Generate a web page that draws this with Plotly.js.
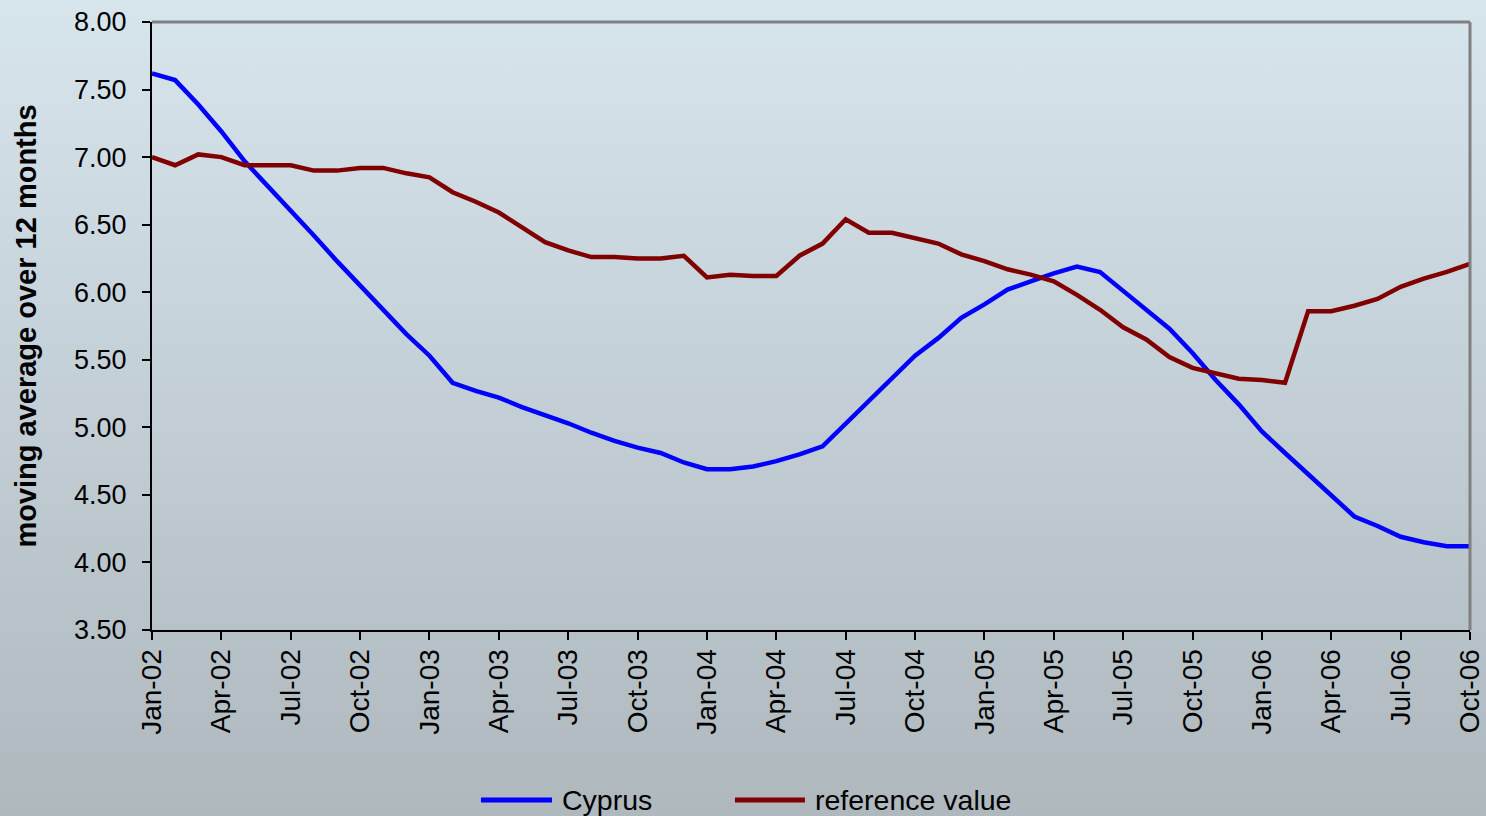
<!DOCTYPE html>
<html>
<head>
<meta charset="utf-8">
<script src="https://cdn.plot.ly/plotly-3.0.1.min.js"></script>
<style>
  html, body { margin: 0; padding: 0; width: 1486px; height: 816px; overflow: hidden; }
  body { background: linear-gradient(to bottom, #d7e5ed 0%, #aeb8bd 100%); }
  #chart { width: 1486px; height: 816px; }
</style>
</head>
<body>
<div id="chart"></div>
<script>
const months = [
  "Jan-02","Feb-02","Mar-02","Apr-02","May-02","Jun-02","Jul-02","Aug-02","Sep-02","Oct-02","Nov-02","Dec-02",
  "Jan-03","Feb-03","Mar-03","Apr-03","May-03","Jun-03","Jul-03","Aug-03","Sep-03","Oct-03","Nov-03","Dec-03",
  "Jan-04","Feb-04","Mar-04","Apr-04","May-04","Jun-04","Jul-04","Aug-04","Sep-04","Oct-04","Nov-04","Dec-04",
  "Jan-05","Feb-05","Mar-05","Apr-05","May-05","Jun-05","Jul-05","Aug-05","Sep-05","Oct-05","Nov-05","Dec-05",
  "Jan-06","Feb-06","Mar-06","Apr-06","May-06","Jun-06","Jul-06","Aug-06","Sep-06","Oct-06"
];
const tickLabels = [
  "Jan-02","Apr-02","Jul-02","Oct-02","Jan-03","Apr-03","Jul-03","Oct-03","Jan-04","Apr-04",
  "Jul-04","Oct-04","Jan-05","Apr-05","Jul-05","Oct-05","Jan-06","Apr-06","Jul-06","Oct-06"
];
const cyprus = [
  7.62,7.57,7.39,7.19,6.97,6.79,6.61,6.42,6.23,6.05,5.87,5.69,
  5.53,5.33,5.27,5.22,5.15,5.09,5.03,4.96,4.90,4.85,4.81,4.74,
  4.69,4.69,4.71,4.75,4.80,4.86,5.03,5.19,5.36,5.53,5.66,5.81,
  5.91,6.02,6.08,6.14,6.19,6.15,6.01,5.87,5.73,5.55,5.35,5.17,
  4.97,4.81,4.65,4.50,4.34,4.27,4.19,4.15,4.12,4.12
];
const referenceValue = [
  7.00,6.94,7.02,7.00,6.94,6.94,6.94,6.90,6.90,6.92,6.92,6.88,
  6.85,6.74,6.67,6.59,6.48,6.37,6.31,6.26,6.26,6.25,6.25,6.27,
  6.11,6.13,6.12,6.12,6.27,6.36,6.54,6.44,6.44,6.40,6.36,6.28,
  6.23,6.17,6.13,6.08,5.98,5.87,5.74,5.65,5.52,5.44,5.40,5.36,
  5.35,5.33,5.86,5.86,5.90,5.95,6.04,6.10,6.15,6.21
];
const yTicks = [3.5,4.0,4.5,5.0,5.5,6.0,6.5,7.0,7.5,8.0];
const seriesNames = ["Cyprus", "reference value"];
const seriesColors = ["#0000ff", "#800000"];

const font = "Liberation Sans, Arial, sans-serif";

const traces = [
  { x: months, y: cyprus, name: seriesNames[0], type: "scatter", mode: "lines",
    line: { color: seriesColors[0], width: 4.5 } },
  { x: months, y: referenceValue, name: seriesNames[1], type: "scatter", mode: "lines",
    line: { color: seriesColors[1], width: 4.5 } }
];

// manual legend below the chart (paper coordinates)
const legendY = -0.2796;
const legendItems = [
  { x0: 0.2496, x1: 0.3035, tx: 0.3096 },
  { x0: 0.4423, x1: 0.4954, tx: 0.5015 }
];
const legendShapes = legendItems.map((it, i) => ({
  type: "line", xref: "paper", yref: "paper", x0: it.x0, x1: it.x1, y0: legendY, y1: legendY,
  line: { color: seriesColors[i], width: 5 }
}));
const legendAnnotations = legendItems.map((it, i) => ({
  xref: "paper", yref: "paper", x: it.tx, y: legendY, xanchor: "left", yanchor: "middle",
  text: seriesNames[i], showarrow: false, font: { family: font, size: 28.5, color: "#000" }
}));

const layout = {
  width: 1486, height: 816,
  margin: { l: 152, r: 16, t: 22, b: 186 },
  paper_bgcolor: "rgba(0,0,0,0)",
  plot_bgcolor: "rgba(0,0,0,0)",
  font: { family: font, color: "#000", size: 27 },
  showlegend: false,
  xaxis: {
    type: "category",
    range: [0, months.length - 1],
    tickmode: "array", tickvals: tickLabels, ticktext: tickLabels,
    tickangle: -90,
    ticks: "outside", ticklen: 8, tickwidth: 2, tickcolor: "#000",
    showline: true, linecolor: "#000", linewidth: 2,
    showgrid: false, zeroline: false,
    tickfont: { family: font, size: 28, color: "#000" },
    ticklabelstandoff: -2
  },
  yaxis: {
    range: [3.5, 8.0],
    tickmode: "array", tickvals: yTicks,
    tickformat: ".2f",
    ticks: "outside", ticklen: 8, tickwidth: 2, tickcolor: "#000",
    showline: true, linecolor: "#000", linewidth: 2,
    showgrid: false, zeroline: false,
    tickfont: { family: font, size: 27, color: "#000" },
    ticklabelstandoff: 10,
    title: { text: "<b>moving average over 12 months</b>", font: { family: font, size: 29, color: "#000" }, standoff: 29 }
  },
  shapes: [
    { type: "line", xref: "paper", yref: "paper", x0: 0, x1: 1, y0: 1, y1: 1,
      line: { color: "#808080", width: 3 } },
    { type: "line", xref: "paper", yref: "paper", x0: 1, x1: 1, y0: 0, y1: 1,
      line: { color: "#808080", width: 3 } }
  ].concat(legendShapes),
  annotations: legendAnnotations
};

Plotly.newPlot("chart", traces, layout, { displayModeBar: false, staticPlot: true });
</script>
</body>
</html>
